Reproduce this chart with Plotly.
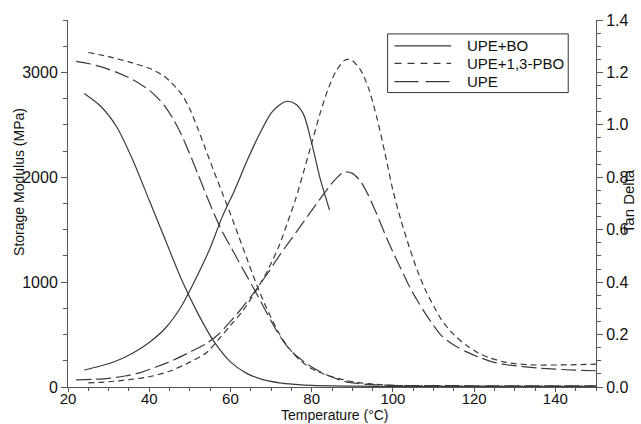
import plotly.graph_objects as go

# ---------------- data ----------------
# Storage modulus (MPa), left axis
t_sm_bo = [24, 28, 32, 36, 40, 44, 48, 52, 56, 60, 64, 68, 72, 76, 80, 90, 100, 120, 150]
sm_bo = [2800, 2680, 2480, 2160, 1780, 1400, 1020, 700, 430, 240, 130, 70, 40, 25, 15, 8, 5, 4, 3]

t_sm_pbo = [25, 30, 35, 40, 43, 45, 48, 50, 52, 54, 56, 58, 60, 62, 64, 66, 68, 70, 72, 74, 77, 80, 84, 88, 92, 96, 100, 110, 130, 150]
sm_pbo = [3190, 3150, 3100, 3040, 2980, 2920, 2790, 2650, 2460, 2255, 2050, 1850, 1650, 1440, 1230, 1020, 830, 660, 510, 390, 260, 175, 110, 66, 40, 25, 15, 10, 8, 8]

t_sm_upe = [22, 25, 28, 32, 36, 40, 42, 44, 46, 48, 50, 52, 54, 56, 58, 60, 62, 64, 66, 68, 70, 72, 74, 76, 78, 80, 84, 88, 92, 96, 100, 120, 150]
sm_upe = [3105, 3085, 3055, 3000, 2930, 2830, 2760, 2670, 2550, 2400, 2220, 2030, 1835, 1650, 1480, 1340, 1200, 1060, 920, 775, 630, 495, 385, 305, 245, 190, 110, 55, 30, 20, 15, 12, 10]

# Tan delta, right axis
t_td_bo = [24, 28, 32, 36, 40, 44, 48, 52, 55, 58, 61, 64, 67, 70, 72, 74, 76, 78, 80, 82, 84.4]
td_bo = [0.065, 0.08, 0.10, 0.13, 0.17, 0.225, 0.31, 0.43, 0.53, 0.65, 0.75, 0.86, 0.96, 1.045, 1.075, 1.09, 1.08, 1.04, 0.93, 0.80, 0.675]

t_td_pbo = [25, 30, 35, 40, 45, 50, 54, 57, 60, 63, 66, 69, 72, 74, 76, 78, 80, 82, 84, 86, 88, 89, 90, 92, 94, 96, 98, 100, 102, 104, 106, 108, 110, 112, 115, 118, 121, 124, 127, 130, 135, 140, 145, 150]
td_pbo = [0.016, 0.02, 0.028, 0.039, 0.06, 0.095, 0.13, 0.18, 0.235, 0.29, 0.36, 0.44, 0.54, 0.625, 0.715, 0.82, 0.93, 1.04, 1.135, 1.205, 1.245, 1.25, 1.245, 1.21, 1.14, 1.03, 0.895, 0.75, 0.635, 0.535, 0.445, 0.37, 0.31, 0.255, 0.20, 0.16, 0.13, 0.11, 0.097, 0.089, 0.084, 0.084, 0.085, 0.087]

t_td_upe = [22, 26, 30, 34, 38, 42, 46, 50, 54, 57, 60, 63, 66, 69, 72, 75, 78, 81, 84, 86, 88, 90, 92, 94, 96, 98, 100, 102, 104, 106, 108, 110, 112, 115, 118, 121, 124, 128, 132, 136, 140, 145, 150]
td_upe = [0.027, 0.029, 0.033, 0.042, 0.056, 0.078, 0.103, 0.133, 0.165, 0.20, 0.25, 0.305, 0.365, 0.43, 0.50, 0.565, 0.63, 0.695, 0.758, 0.795, 0.82, 0.815, 0.785, 0.73, 0.66, 0.585, 0.515, 0.45, 0.385, 0.33, 0.28, 0.235, 0.195, 0.16, 0.135, 0.115, 0.098, 0.085, 0.078, 0.072, 0.068, 0.064, 0.062]

series_names = ["UPE+BO", "UPE+1,3-PBO", "UPE"]
x_ticks = [20, 40, 60, 80, 100, 120, 140]

# ---------------- styles ----------------
LINE_COLOR = "#3a3a3a"
dashes = {"UPE+BO": "solid", "UPE+1,3-PBO": "6px,4px", "UPE": "15px,5px"}
legend_dashes = {"UPE+BO": "solid", "UPE+1,3-PBO": "7px,6px", "UPE": "24px,7px"}
FONT = "Liberation Sans, Arial, sans-serif"

fig = go.Figure()

sm_data = {"UPE+BO": (t_sm_bo, sm_bo), "UPE+1,3-PBO": (t_sm_pbo, sm_pbo), "UPE": (t_sm_upe, sm_upe)}
td_data = {"UPE+BO": (t_td_bo, td_bo), "UPE+1,3-PBO": (t_td_pbo, td_pbo), "UPE": (t_td_upe, td_upe)}

for name in series_names:
    x, y = sm_data[name]
    fig.add_trace(go.Scatter(x=x, y=y, mode="lines", name=name, showlegend=False,
                             line=dict(color=LINE_COLOR, width=1.2, dash=dashes[name], shape="spline", smoothing=0.8),
                             yaxis="y"))
for name in series_names:
    x, y = td_data[name]
    fig.add_trace(go.Scatter(x=x, y=y, mode="lines", name=name, showlegend=False,
                             line=dict(color=LINE_COLOR, width=1.2, dash=dashes[name], shape="spline", smoothing=0.8),
                             yaxis="y2"))

axis_common = dict(showline=True, linecolor="#555", linewidth=1, ticks="outside",
                   tickcolor="#555", showgrid=False, zeroline=False)
tick_font = dict(family=FONT, size=16, color="#111")

fig.update_layout(
    width=641, height=424,
    margin=dict(l=68, r=41, t=18, b=37),
    paper_bgcolor="white", plot_bgcolor="white",
    font=dict(family=FONT, color="#111"),
    xaxis=dict(range=[20, 150], tickvals=x_ticks, ticklen=4, ticklabelstandoff=-6,
               tickfont=dict(family=FONT, size=15, color="#111"), **axis_common,
               minor=dict(dtick=5, tick0=20, ticklen=3, ticks="outside", tickcolor="#555")),
    yaxis=dict(range=[0, 3500], tickvals=[0, 1000, 2000, 3000], ticklen=6, tickfont=tick_font, **axis_common,
               minor=dict(dtick=250, ticklen=4, ticks="outside", tickcolor="#555")),
    yaxis2=dict(range=[0, 1.4], dtick=0.2, tickformat=".1f", overlaying="y", side="right", ticklen=6,
                tickfont=tick_font, **axis_common,
                minor=dict(dtick=0.05, ticklen=4, ticks="outside", tickcolor="#555")),
    showlegend=False,
)

# ---- legend box (drawn in paper coordinates) ----
fig.add_shape(type="rect", xref="paper", yref="paper", x0=0.6053, x1=0.9474, y0=0.8022, y1=0.9621,
              line=dict(color="#333", width=1), fillcolor="white", layer="above")
legend_rows = [0.9295, 0.8816, 0.832]
for name, yr in zip(series_names, legend_rows):
    fig.add_shape(type="line", xref="paper", yref="paper", x0=0.6184, x1=0.7256, y0=yr, y1=yr,
                  line=dict(color=LINE_COLOR, width=1.3, dash=legend_dashes[name]), layer="above")
    fig.add_annotation(text=name, xref="paper", yref="paper", x=0.7519, y=yr,
                       xanchor="left", yanchor="middle", showarrow=False,
                       font=dict(family=FONT, size=15, color="#111"))

fig.add_annotation(text="Temperature (°C)", xref="paper", yref="paper", x=0.506, y=-0.077,
                   xanchor="center", yanchor="middle", showarrow=False,
                   font=dict(family=FONT, size=14, color="#111"))
fig.add_annotation(text="Storage Modulus (MPa)", xref="paper", yref="paper", x=-0.092, y=0.56,
                   xanchor="center", yanchor="middle", textangle=-90, showarrow=False,
                   font=dict(family=FONT, size=14, color="#111"))
fig.add_annotation(text="Tan Delta", xref="paper", yref="paper", x=1.063, y=0.507,
                   xanchor="center", yanchor="middle", textangle=-90, showarrow=False,
                   font=dict(family=FONT, size=15, color="#111"))

fig.write_html("out.html", config={"displayModeBar": False},
               post_script="document.body.style.margin='0';document.body.style.overflow='hidden';")
